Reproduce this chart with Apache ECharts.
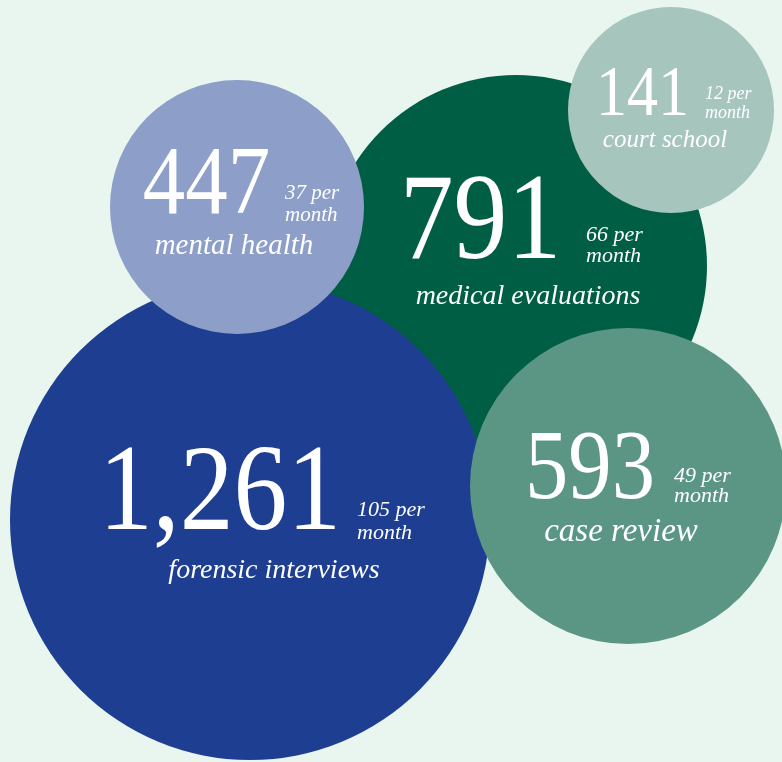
<!DOCTYPE html>
<html>
<head>
<meta charset="utf-8">
<script src="https://cdn.jsdelivr.net/npm/echarts@6/dist/echarts.min.js"></script>
<style>
  html, body { margin: 0; padding: 0; background: #e9f6ef; }
  #chart { width: 782px; height: 762px; }
</style>
</head>
<body>
<div id="chart"></div>
<script>
// values, back-to-front drawing order
const categories = ['medical evaluations', 'forensic interviews', 'mental health', 'court school', 'case review'];
const totals = [791, 1261, 447, 141, 593];
const perMonth = [66, 105, 37, 12, 49];

// bubble layout (chart units = px)
const centreX = [516, 250, 237, 671, 628];
const centreY = [266, 520, 207, 110, 486];
const radius = [191, 240, 127, 103, 158];
const colors = ['#005e44', '#1e3e92', '#8d9fc9', '#a6c5bc', '#5b9685'];

// text layout, offsets from the bubble centre
const numSize = [123, 123, 97, 71, 99];
const numDx = [-35.5, -30, -30.5, -28.5, -38];
const numBase = [-3, 14, 10, 8, 16];
const smallSize = [22, 22, 21, 18, 22];
const smallDx = [70, 107, 48, 34, 46];
const perBase = [-24, -3, -7, -10, -3];
const monthBase = [-3, 20, 15, 9, 17];
const labelSize = [28, 28, 29, 25, 33];
const labelDx = [12, 24, -3, -6, -7];
const labelBase = [39, 59, 48, 38, 56];

const serif = '"Liberation Serif", "Times New Roman", serif';

function txt(x, y, text, font, align, extra) {
  return Object.assign({
    type: 'text',
    x: x,
    y: y,
    style: { text: text, font: font, fill: '#ffffff', align: align, verticalAlign: 'middle' }
  }, extra || {});
}

function renderItem(params, api) {
  const i = params.dataIndex;
  const c = api.coord([api.value(0), api.value(1)]);
  const r = api.size([api.value(2), 0])[0];
  // baseline -> middle of line
  const mid = (base, fs) => c[1] + base - 0.3 * fs;
  const small = smallSize[i] + 'px ' + serif;
  return {
    type: 'group',
    children: [
      { type: 'circle', shape: { cx: c[0], cy: c[1], r: r }, style: { fill: colors[i] } },
      txt(c[0] + numDx[i], mid(numBase[i], numSize[i]), totals[i].toLocaleString('en-US'),
        numSize[i] + 'px ' + serif, 'center', { scaleX: 0.875 }),
      txt(c[0] + smallDx[i], mid(perBase[i], smallSize[i]), perMonth[i] + ' per', 'italic ' + small, 'left'),
      txt(c[0] + smallDx[i], mid(monthBase[i], smallSize[i]), 'month', 'italic ' + small, 'left'),
      txt(c[0] + labelDx[i], mid(labelBase[i], labelSize[i]), categories[i],
        'italic ' + labelSize[i] + 'px ' + serif, 'center')
    ]
  };
}

const chart = echarts.init(document.getElementById('chart'));
chart.setOption({
  backgroundColor: '#e9f6ef',
  animation: false,
  grid: { left: 0, right: 0, top: 0, bottom: 0 },
  xAxis: { type: 'value', min: 0, max: 782, show: false },
  yAxis: { type: 'value', min: 0, max: 762, inverse: true, show: false },
  series: [{
    type: 'custom',
    renderItem: renderItem,
    clip: false,
    data: centreX.map((x, i) => [x, centreY[i], radius[i]])
  }]
});
window.addEventListener('resize', () => chart.resize());
</script>
</body>
</html>
